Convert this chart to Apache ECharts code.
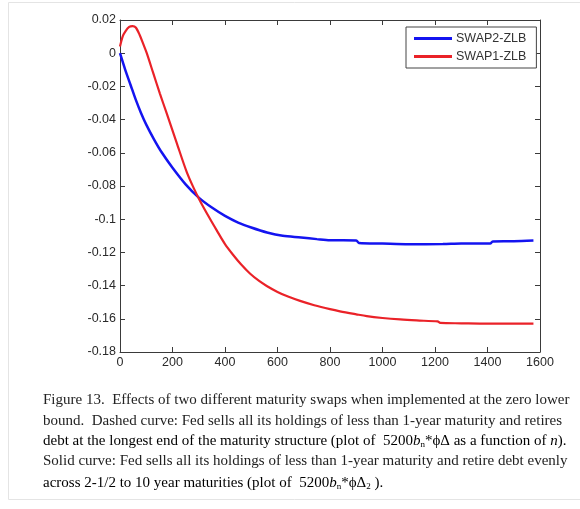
<!DOCTYPE html>
<html>
<head>
<meta charset="utf-8">
<script src="https://cdn.jsdelivr.net/npm/echarts@6/dist/echarts.min.js"></script>
<style>
html,body{margin:0;padding:0;background:#fff;}
#chart{width:580px;height:509px;}
</style>
</head>
<body>
<div id="chart"></div>
<script>
// ---- data ----
var seriesNames = ['SWAP2-ZLB', 'SWAP1-ZLB'];
var xTicks = [0, 200, 400, 600, 800, 1000, 1200, 1400, 1600];
var yTicks = [0.02, 0, -0.02, -0.04, -0.06, -0.08, -0.1, -0.12, -0.14, -0.16, -0.18];

var swap2N =    [0, 20, 40, 60, 80, 100, 130, 160, 200, 250, 300, 350, 400, 450, 500, 560, 620, 690, 750, 800, 900, 910, 1000, 1100, 1230, 1300, 1410, 1420, 1500, 1575];
var swap2Vals = [0, -0.010, -0.019, -0.028, -0.036, -0.043, -0.052, -0.060, -0.069, -0.079, -0.087, -0.093, -0.098, -0.102, -0.105, -0.108, -0.110, -0.1110, -0.1120, -0.1127, -0.1128, -0.1143, -0.1147, -0.1151, -0.1150, -0.1147, -0.1147, -0.1134, -0.1133, -0.1129];

var swap1N =    [0, 10, 20, 35, 48, 60, 75, 90, 102, 127, 152, 178, 216, 254, 280, 305, 340, 368, 400, 432, 460, 495, 530, 559, 600, 640, 686, 740, 800, 838, 900, 940, 1000, 1067, 1130, 1210, 1220, 1300, 1400, 1575];
var swap1Vals = [0.004, 0.010, 0.013, 0.0158, 0.0163, 0.0155, 0.011, 0.005, 0.000, -0.0122, -0.0243, -0.0363, -0.054, -0.0715, -0.081, -0.089, -0.099, -0.1066, -0.115, -0.1217, -0.127, -0.1327, -0.1372, -0.1402, -0.1438, -0.1466, -0.1492, -0.1518, -0.1542, -0.1555, -0.1573, -0.1584, -0.1595, -0.1604, -0.1610, -0.1616, -0.1625, -0.1627, -0.1629, -0.1629];

var captionLines = [
  'Figure 13.  Effects of two different maturity swaps when implemented at the zero lower',
  'bound.  Dashed curve: Fed sells all its holdings of less than 1-year maturity and retires',
  'debt at the longest end of the maturity structure (plot of  ',
  'Solid curve: Fed sells all its holdings of less than 1-year maturity and retire debt evenly',
  'across 2-1/2 to 10 year maturities (plot of  '
];

function zip(a, b) { return a.map(function (v, i) { return [v, b[i]]; }); }

var chart = echarts.init(document.getElementById('chart'), null, {renderer: 'canvas'});

var axisColor = '#3a3a3a';
var labelColor = '#2a2a2a';
var sansFont = '"Liberation Sans", Arial, sans-serif';
var capFont = '"Liberation Serif", "DejaVu Serif", serif';
var capColor = '#222';
var capSize = 15;

var richMath = {
  n: {fontFamily: capFont, fontSize: capSize, color: capColor},
  i: {fontFamily: capFont, fontSize: capSize, color: capColor, fontStyle: 'italic'},
  s: {fontFamily: capFont, fontSize: 9, color: capColor, verticalAlign: 'bottom'}
};

function capLine(idx, top) {
  return {type: 'text', left: 43, top: top, style: {text: captionLines[idx], font: capSize + 'px ' + capFont, fill: capColor}};
}

var option = {
  backgroundColor: '#fff',
  animation: false,
  grid: {left: 120, right: 40, top: 20, bottom: 157, containLabel: false},
  legend: {
    orient: 'vertical',
    left: 406, top: 27,
    data: seriesNames,
    backgroundColor: '#fff',
    borderColor: '#444', borderWidth: 1,
    padding: [5, 10, 5, 8],
    itemWidth: 38, itemHeight: 3, itemGap: 5,
    icon: 'rect',
    textStyle: {fontFamily: sansFont, fontSize: 12.5, color: '#333', padding: [0, 0, 0, -1]}
  },
  xAxis: [{
    type: 'value', min: 0, max: 1600, interval: 200,
    axisLine: {show: true, onZero: false, lineStyle: {color: axisColor, width: 1}},
    axisTick: {show: true, inside: true, length: 5, lineStyle: {color: axisColor}},
    axisLabel: {color: labelColor, fontSize: 12.5, fontFamily: sansFont, margin: 4,
      formatter: function (v) { return xTicks.indexOf(v) >= 0 ? String(v) : ''; }},
    splitLine: {show: false}
  }, {
    type: 'value', min: 0, max: 1600, interval: 200, position: 'top',
    axisLine: {show: true, onZero: false, lineStyle: {color: axisColor, width: 1}},
    axisTick: {show: true, inside: true, length: 5, lineStyle: {color: axisColor}},
    axisLabel: {show: false}, splitLine: {show: false}
  }],
  yAxis: [{
    type: 'value', min: -0.18, max: 0.02, interval: 0.02,
    axisLine: {show: true, onZero: false, lineStyle: {color: axisColor, width: 1}},
    axisTick: {show: true, inside: true, length: 5, lineStyle: {color: axisColor}},
    axisLabel: {color: labelColor, fontSize: 12.5, fontFamily: sansFont, margin: 4,
      formatter: function (v) {
        var r = Math.round(v * 100) / 100;
        for (var k = 0; k < yTicks.length; k++) { if (Math.abs(yTicks[k] - r) < 1e-9) return String(yTicks[k]); }
        return '';
      }},
    splitLine: {show: false}
  }, {
    type: 'value', min: -0.18, max: 0.02, interval: 0.02, position: 'right',
    axisLine: {show: true, onZero: false, lineStyle: {color: axisColor, width: 1}},
    axisTick: {show: true, inside: true, length: 5, lineStyle: {color: axisColor}},
    axisLabel: {show: false}, splitLine: {show: false}
  }],
  series: [{
    name: seriesNames[0], type: 'line', data: zip(swap2N, swap2Vals),
    showSymbol: false, symbol: 'none', smooth: 0.3,
    lineStyle: {color: '#1414f0', width: 2.5}, itemStyle: {color: '#1414f0'}
  }, {
    name: seriesNames[1], type: 'line', data: zip(swap1N, swap1Vals),
    showSymbol: false, symbol: 'none', smooth: 0.3,
    lineStyle: {color: '#ea2228', width: 2.2}, itemStyle: {color: '#ea2228'}
  }],
  graphic: [
    {type: 'rect', shape: {x: 8.5, y: 2.5, width: 600, height: 497}, style: {fill: 'none', stroke: '#e4e4e4', lineWidth: 1}, silent: true, z: -10},
    capLine(0, 393),
    capLine(1, 414),
    {type: 'text', left: 43, top: 434, style: {
      text: '{n|' + captionLines[2] + '5200}{i|b}{s|n}{n|*\u03d5\u0394 as a function of }{i|n}{n|).}',
      rich: richMath}},
    capLine(3, 454),
    {type: 'text', left: 43, top: 476, style: {
      text: '{n|' + captionLines[4] + '5200}{i|b}{s|n}{n|*\u03d5\u0394}{s|2}{n| ).}',
      rich: richMath}}
  ]
};
chart.setOption(option);
</script>
</body>
</html>
